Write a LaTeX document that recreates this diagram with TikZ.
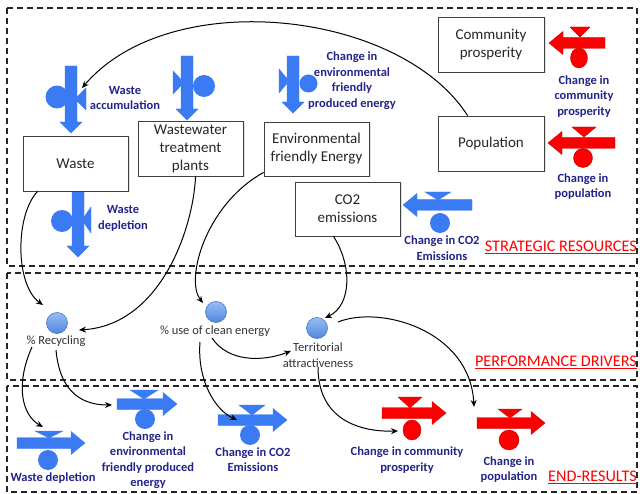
\documentclass[tikz,border=0pt]{standalone}
\usepackage{fontspec}
\setmainfont{Carlito}
\usetikzlibrary{arrows.meta,shadows}
\definecolor{vblue}{RGB}{58,122,242}
\definecolor{vred}{RGB}{250,0,0}
\definecolor{navy}{RGB}{35,35,140}
\definecolor{ballA}{RGB}{150,190,245}
\definecolor{ballB}{RGB}{80,135,220}
\definecolor{ballE}{RGB}{75,115,195}
\tikzset{rsh/.style={fill=vred,draw=vred!80!black}, bsh/.style={fill=vblue,draw=vblue}}
\newcommand{\flowdown}[4]{\filldraw[#4,line width=0.4pt] (#1-6,#2) -- (#1+6,#2) -- (#1+6,#3-11) -- (#1+11,#3-11) -- (#1,#3) -- (#1-11,#3-11) -- (#1-6,#3-11) -- cycle;}
\newcommand{\flowright}[4]{\filldraw[#4,line width=0.4pt] (#1,#3-5.5) -- (#2-14,#3-5.5) -- (#2-14,#3-11.5) -- (#2,#3) -- (#2-14,#3+11.5) -- (#2-14,#3+5.5) -- (#1,#3+5.5) -- cycle;}
\newcommand{\flowleft}[4]{\filldraw[#4,line width=0.4pt] (#1,#3-5.5) -- (#2+14,#3-5.5) -- (#2+14,#3-11.5) -- (#2,#3) -- (#2+14,#3+11.5) -- (#2+14,#3+5.5) -- (#1,#3+5.5) -- cycle;}
\newcommand{\tridown}[5]{\filldraw[#5,line width=0.4pt] (#1-#4,#2) -- (#1+#4,#2) -- (#1,#3) -- cycle;}
\newcommand{\triside}[5]{\filldraw[#5,line width=0.4pt] (#1,#3-#4) -- (#1,#3+#4) -- (#2,#3) -- cycle;}
\begin{document}
\begin{tikzpicture}[x=1pt,y=-1pt,
  sbox/.style={draw=black!75, line width=0.8pt, fill=white, minimum width=105pt, minimum height=55pt, inner sep=0pt, align=center, font=\fontsize{15}{18}\selectfont, text=black!85, drop shadow={shadow xshift=1.5pt,shadow yshift=-1.5pt,opacity=0.25}},
  vlabel/.style={font=\fontsize{12.5}{15.5}\selectfont\bfseries, text=navy, align=center, inner sep=0pt},
  dlabel/.style={font=\fontsize{12.5}{15.5}\selectfont, text=black!80, align=center, inner sep=0pt},
  dball/.style={circle, minimum size=21pt, inner sep=0pt, draw=ballE, line width=0.6pt, top color=ballA, bottom color=ballB},
  region/.style={draw=black!85, line width=1.5pt, dash pattern=on 6pt off 4pt},
  rlabel/.style={font=\fontsize{16.2}{18}\selectfont, text=red, anchor=east, inner sep=0pt},
  conn/.style={-{Stealth[length=7pt,width=6pt]}, line width=1pt, black}]
\useasboundingbox (0,0) rectangle (640,494);
% regions
\draw[region] (7,8) rectangle (637,266);
\draw[region] (7,273) rectangle (637,380);
\draw[region] (7,386) rectangle (637,492);
% top valves (vertical)
\flowdown{71}{66}{133}{bsh}
\fill[vblue] (57,97) circle[radius=11.5];
\triside{86}{75}{99}{11}{bsh}
\flowdown{187}{56}{120}{bsh}
\triside{173}{184}{82.5}{11.5}{bsh}
\fill[vblue] (204,86) circle[radius=11];
\flowdown{293}{56}{113}{bsh}
\triside{279}{289}{81}{12}{bsh}
\fill[vblue] (308.5,83.5) circle[radius=9];
\flowdown{78}{191}{257}{bsh}
\fill[vblue] (62,221) circle[radius=11];
\triside{91}{82}{220}{13}{bsh}
% top valves (horizontal)
\flowleft{605}{549}{43}{rsh}
\tridown{580}{27}{37}{10}{rsh}
\filldraw[rsh,line width=0.4pt] (579,58) ellipse[x radius=8.5,y radius=10];
\flowleft{615}{548}{143}{rsh}
\tridown{584}{127}{137}{12}{rsh}
\filldraw[rsh,line width=0.4pt] (583,158) circle[radius=9.5];
\flowleft{472}{403}{205}{bsh}
\tridown{438}{192}{200}{13}{bsh}
\fill[vblue] (440,223) circle[radius=10];
% bottom valves
\flowright{17}{85}{443}{bsh}
\tridown{49}{431}{438}{14}{bsh}
\fill[vblue] (48,460) circle[radius=10];
\flowright{117}{177}{404}{bsh}
\tridown{144}{390}{399}{14}{bsh}
\fill[vblue] (145,419) circle[radius=10];
\flowright{218}{287}{420}{bsh}
\tridown{252}{405}{415}{13}{bsh}
\fill[vblue] (250,435) circle[radius=10];
\flowright{382}{446}{413}{rsh}
\tridown{410}{397}{408}{12}{rsh}
\filldraw[rsh,line width=0.4pt] (412,430) ellipse[x radius=9,y radius=10];
\flowright{477}{545}{423}{rsh}
\tridown{510}{409}{418}{12}{rsh}
\filldraw[rsh,line width=0.4pt] (509,440) circle[radius=10];
% stock boxes
\node[sbox] (waste) at (75.5,163.5) {Waste};
\node[sbox] (wwtp) at (190.5,148.5) {Wastewater\\treatment\\plants};
\node[sbox,minimum height=54pt] (efe) at (316.5,149) {Environmental\\friendly Energy};
\node[sbox,minimum height=54pt] (co2) at (347.5,209) {CO2\\emissions};
\node[sbox,minimum width=106pt] (comm) at (491,44.5) {Community\\prosperity};
\node[sbox,minimum width=106pt] (pop) at (491,143.5) {Population};
% drivers
\node[dball] (rec) at (57,323) {};
\node[dlabel] (recT) at (56,341) {\% Recycling};
\node[dball] (clean) at (216,312) {};
\node[dlabel] (cleanT) at (215,331) {\% use of clean energy};
\node[dball] (terr) at (317,328) {};
\node[dlabel] (terrT) at (318,355) {Territorial\\attractiveness};
% region labels
\node[rlabel] (lsr) at (637,247) {\underline{STRATEGIC RESOURCES}};
\node[rlabel] (lpd) at (637,362) {\underline{PERFORMANCE DRIVERS}};
\node[rlabel] (ler) at (637,477) {\underline{END-RESULTS}};
% valve labels
\node[vlabel] (l-wacc) at (125,98) {Waste\\accumulation};
\node[vlabel] (l-wdep1) at (123,218.5) {Waste\\depletion};
\node[vlabel] (l-cefe1) at (352,80.5) {Change in\\environmental\\friendly\\produced energy};
\node[vlabel] (l-ccomm1) at (584,96.5) {Change in\\community\\prosperity};
\node[vlabel] (l-cpop1) at (583,186.5) {Change in\\population};
\node[vlabel] (l-cco21) at (442,248) {Change in CO2\\Emissions};
\node[vlabel] (l-wdep2) at (53,478) {Waste depletion};
\node[vlabel] (l-cefe2) at (148,460) {Change in\\environmental\\friendly produced\\energy};
\node[vlabel] (l-cco22) at (253,459.5) {Change in CO2\\Emissions};
\node[vlabel] (l-ccomm2) at (407,460) {Change in community\\prosperity};
\node[vlabel] (l-cpop2) at (509,469.5) {Change in\\population};
% connector ends
\coordinate (wacc-in) at (82,88);
\coordinate (wdep-in) at (43,427);
\coordinate (cefe-in) at (112,405);
\coordinate (cco2-in) at (237,420);
\coordinate (ccomm-in) at (398,431);
\coordinate (cpop-in) at (474,407);
% connectors
\draw[conn] ([xshift=30pt]pop.north west) .. controls (400,10) and (170,-15) .. (wacc-in);
\draw[conn] ([xshift=15pt]waste.south west) .. controls (15,215) and (15,285) .. ([xshift=-14pt,yshift=18pt]rec.center);
\draw[conn] ([xshift=58pt]wwtp.south west) .. controls (193,230) and (160,325) .. ([xshift=22pt,yshift=-7pt]rec.center);
\draw[conn] ([yshift=4pt]efe.south west) .. controls (205,205) and (185,280) .. ([xshift=-13pt,yshift=9pt]clean.center);
\draw[conn] ([xshift=-14pt]co2.south) .. controls (352,265) and (352,305) .. ([xshift=8pt,yshift=10pt]terr.center);
\draw[conn] ([xshift=-3pt,yshift=-7pt]cleanT.center) .. controls (228,362) and (262,362) .. ([xshift=-27pt,yshift=4pt]terrT.center);
\draw[conn] ([xshift=-15pt,yshift=-11pt]cleanT.center) .. controls (197,380) and (215,410) .. (cco2-in);
\draw[conn] ([xshift=-24pt,yshift=-6pt]recT.center) .. controls (15,385) and (22,415) .. (wdep-in);
\draw[conn] ([yshift=-9pt]recT.center) .. controls (60,395) and (85,405) .. (cefe-in);
\draw[conn] ([yshift=-12pt]terrT.center) .. controls (318,420) and (360,432) .. (ccomm-in);
\draw[conn] ([xshift=21pt,yshift=6pt]terr.center) .. controls (380,305) and (470,330) .. (cpop-in);
\end{tikzpicture}
\end{document}
